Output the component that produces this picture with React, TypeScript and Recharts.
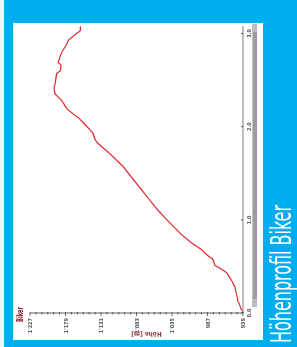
import { LineChart, Line, XAxis, YAxis } from 'recharts'

// distance along the route [km] and elevation [m]
const distanceKm = [
  0, 0.02, 0.05, 0.1, 0.13, 0.19, 0.28, 0.34, 0.43, 0.48, 0.51, 0.58, 0.6, 0.64, 0.68, 0.75, 0.84, 1.0,
  1.12, 1.25, 1.32, 1.43, 1.57, 1.71, 1.82, 1.86, 1.93, 2.01, 2.09, 2.12, 2.19, 2.28, 2.35, 2.41, 2.46,
  2.57, 2.6, 2.66, 2.69, 2.8, 2.85, 2.89, 2.93, 3.0, 3.03, 3.075,
]
const elevationM = [
  939, 939.5, 942, 944, 946, 947.5, 950, 954, 961, 970, 977, 980, 984, 990, 995, 1008, 1022, 1042,
  1056, 1069, 1076, 1087, 1101, 1119, 1135, 1139, 1142, 1151, 1161, 1166, 1177, 1184, 1193, 1194.5, 1193,
  1191, 1186, 1185, 1189, 1184, 1180, 1177, 1175, 1164, 1159, 1159,
]

const distanceTicks = [0, 1, 2, 3]
const distanceLabels = ['0.0', '1.0', '2.0', '3.0']
const elevationMajor = [939, 987, 1035, 1083, 1131, 1179, 1227]
const elevationLabels = ['939', '987', "1'035", "1'083", "1'131", "1'179", "1'227"]
const elevationTicks = Array.from({ length: 37 }, (_, i) => 939 + i * 8)

const data = distanceKm.map((d, i) => ({ d, h: elevationM[i] }))

const W = 347
const H = 297
const narrow = "'Liberation Sans Narrow', 'Arial Narrow', 'DejaVu Sans Condensed', sans-serif"

function ElevTick(props: any) {
  const { y, payload } = props
  const idx = elevationMajor.indexOf(payload.value)
  const major = idx >= 0
  return (
    <g>
      <line x1={major ? 31 : 32.5} x2={35} y1={y} y2={y} stroke="#333" strokeWidth={0.7} />
      {major && (
        <text x={29} y={y + 2} textAnchor="end" fontSize={5.5} fontWeight="bold" fill="#555" fontFamily={narrow}>
          {elevationLabels[idx]}
        </text>
      )}
    </g>
  )
}

function DistTick(props: any) {
  const { x, payload } = props
  const idx = distanceTicks.indexOf(payload.value)
  return (
    <g>
      <line x1={x} x2={x} y1={241} y2={243} stroke="#333" strokeWidth={0.8} />
      <text x={x} y={251} textAnchor="middle" fontSize={5.5} fontWeight="bold" fill="#555" fontFamily={narrow}>
        {distanceLabels[idx]}
      </text>
    </g>
  )
}

function Profile() {
  return (
    <div
      style={{
        position: 'fixed',
        left: 0,
        top: 0,
        width: W,
        height: H,
        background: '#00aeef',
        transformOrigin: '0 0',
        transform: `translateY(${W}px) rotate(-90deg)`,
        overflow: 'hidden',
      }}
    >
      <div style={{ position: 'absolute', left: 0, top: 0, width: W, height: 4, background: '#eef4f7' }} />
      <div style={{ position: 'absolute', left: 7, top: 13, width: 317, height: 250, background: '#fff' }} />
      {/* scrollbar */}
      <div
        style={{
          position: 'absolute',
          left: 40,
          top: 252,
          width: 283,
          height: 5,
          background: '#9c9c9c',
          borderTop: '1px solid #c4c4c4',
          boxSizing: 'border-box',
        }}
      />
      <div style={{ position: 'absolute', left: 40, top: 252, width: 8, height: 5, background: '#bdbdbd' }} />
      <div style={{ position: 'absolute', left: 315, top: 252, width: 8, height: 5, background: '#bdbdbd' }} />
      <svg width={W} height={H} style={{ position: 'absolute', left: 0, top: 0 }}>
        <text
          x={4}
          y={291}
          fill="#fff"
          fontFamily={narrow}
          fontSize={28}
          textLength={138}
          lengthAdjust="spacingAndGlyphs"
        >
          Höhenprofil Biker
        </text>
      </svg>
      <div style={{ position: 'absolute', left: 0, top: 0 }}>
        <LineChart width={W} height={H} data={data} margin={{ top: 30, right: 26, bottom: 34, left: 4 }}>
          <XAxis
            dataKey="d"
            type="number"
            domain={[0, 3.08]}
            ticks={distanceTicks}
            interval={0}
            height={20}
            axisLine={{ stroke: '#a8a8a8', strokeWidth: 1.6 }}
            tickLine={false}
            tick={<DistTick />}
          />
          <YAxis
            dataKey="h"
            type="number"
            domain={[939, 1227]}
            ticks={elevationTicks}
            interval={0}
            width={30}
            axisLine={{ stroke: '#333', strokeWidth: 0.8 }}
            tickLine={false}
            tick={<ElevTick />}
            label={{
              content: () => (
                <text
                  x={12.5}
                  y={146.5}
                  transform="rotate(-90, 12.5, 146.5)"
                  textAnchor="middle"
                  dominantBaseline="central"
                  fontSize={6.5}
                  fontWeight="bold"
                  fill="#8e3a3a"
                  fontFamily={narrow}
                >
                  Höhe [m]
                </text>
              ),
            }}
          />
          <Line
            dataKey="h"
            type="linear"
            stroke="#e3262b"
            strokeWidth={1.2}
            dot={false}
            isAnimationActive={false}
          />
          <text
            x={25}
            y={23}
            fontSize={8}
            fontWeight="bold"
            fill="#8b1c2c"
            fontFamily={narrow}
            textLength={15}
            lengthAdjust="spacingAndGlyphs"
          >
            Biker
          </text>
        </LineChart>
      </div>
    </div>
  )
}

export default function App() {
  return <Profile />
}
